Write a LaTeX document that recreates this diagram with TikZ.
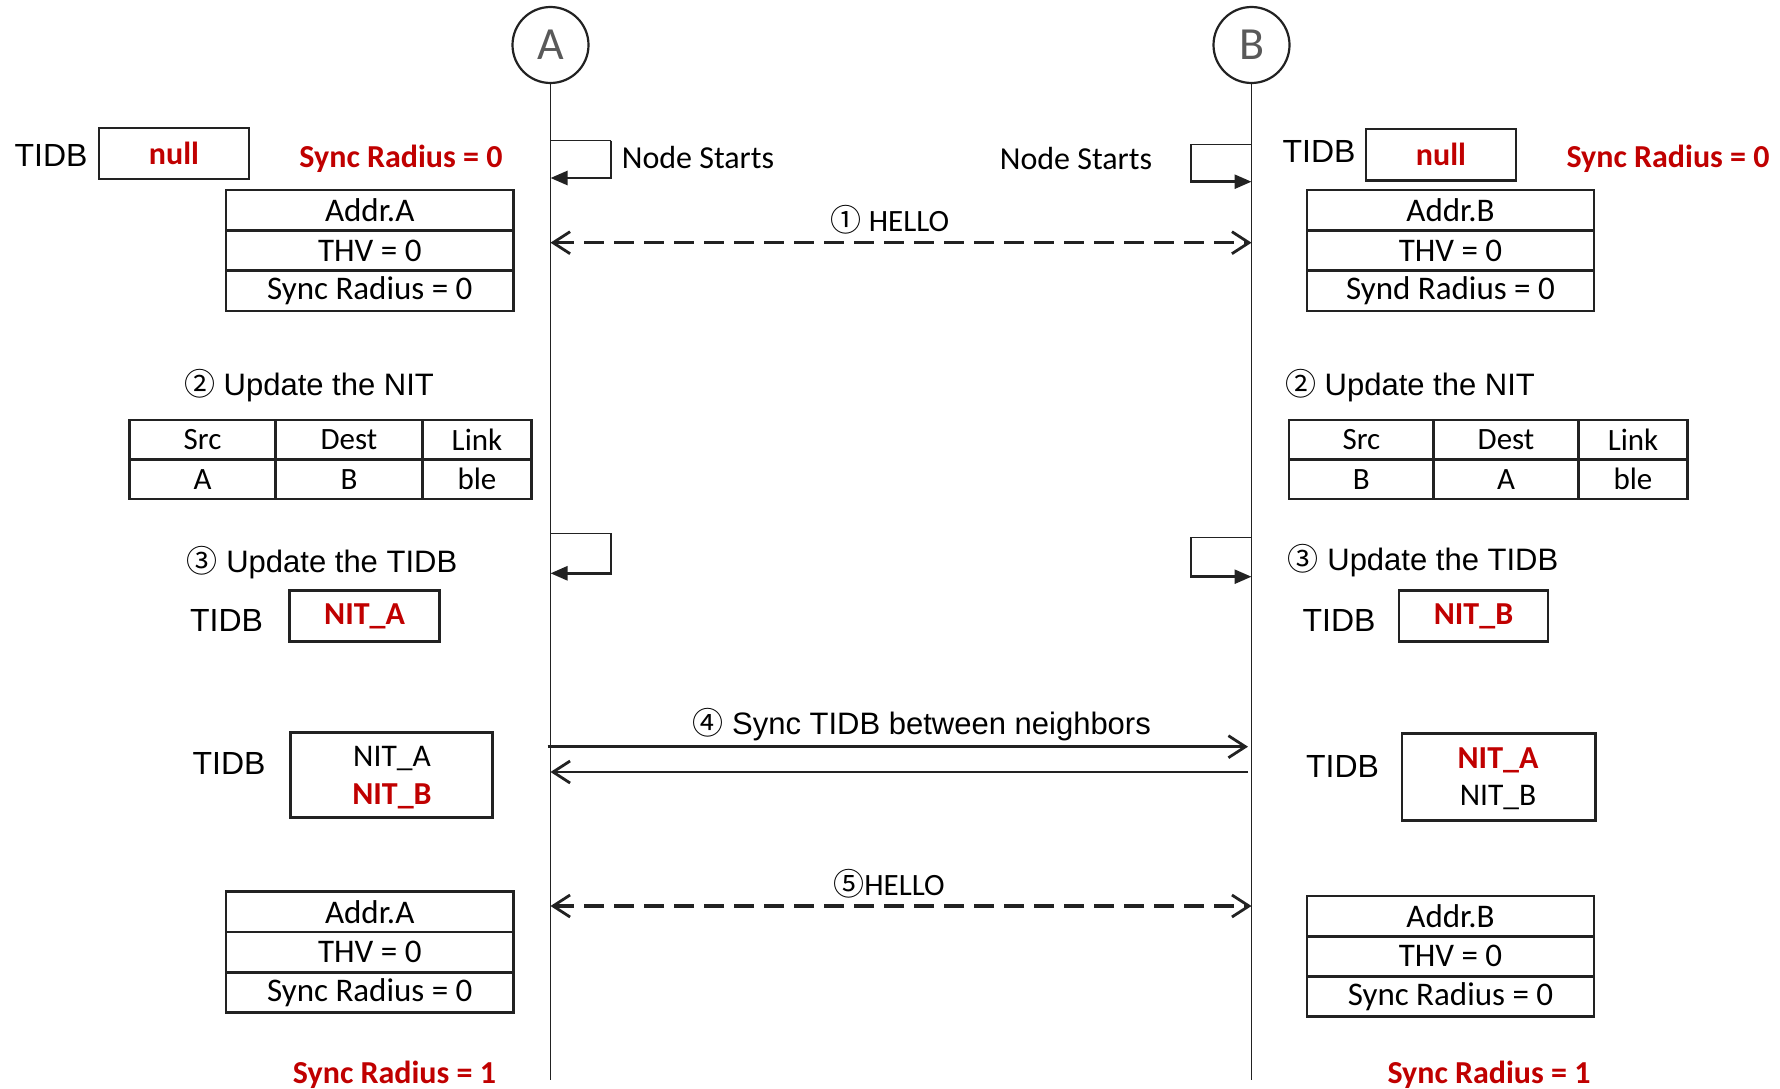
\documentclass[tikz,border=0pt]{standalone}
\usepackage{fontspec}
\setmainfont{Carlito}
\newfontfamily\arialf{Liberation Sans}
\newfontfamily\cjkf{Noto Sans CJK SC}
\usetikzlibrary{arrows.meta}
\definecolor{redtx}{HTML}{C00000}
\definecolor{ink}{HTML}{222222}
\definecolor{lettergray}{HTML}{595959}
\newcommand{\setfs}[1]{\fontsize{#1}{#1}\selectfont}

\begin{document}
\begin{tikzpicture}[x=1pt,y=-1pt,
  actor/.style={circle, draw=ink, line width=2.2, minimum size=76, inner sep=0,
    text=lettergray, font=\setfs{46}},
  life/.style={draw=ink, line width=1.5},
  box/.style={draw=ink, line width=2.6, inner sep=0},
  cell/.style={draw=ink, line width=2.8, inner sep=0, minimum height=40.3, font=\setfs{33}},
  nitcell/.style={draw=ink, line width=2.8, inner sep=0, minimum height=39.5, font=\setfs{31}},
  redb/.style={text=redtx, inner sep=0, font=\bfseries\setfs{32}},
  plain/.style={inner sep=0, font=\setfs{32}},
  head/.style={inner sep=0, font=\arialf\setfs{31}},
  tidb/.style={inner sep=0, font=\arialf\setfs{32}},
  loopthin/.style={draw=ink, line width=1.5},
  loopthick/.style={draw=ink, line width=2.6, -{Triangle[length=17pt,width=14pt]}},
  barb/.tip={Straight Barb[length=17pt,width=22pt,line width=2.8pt]},
  msg/.style={draw=ink, line width=2.8},
  dmsg/.style={draw=ink, line width=3.2, dash pattern=on 20pt off 10pt}
]
\useasboundingbox (0,0) rectangle (1780,1089);

% ---- participants and lifelines ----
\node[actor] (A) at (550.5,45) {A};
\node[actor] (B) at (1251.5,45) {B};
\coordinate (Aend) at (550.5,1080);
\coordinate (Bend) at (1251.5,1080);
\draw[life] (A.south) -- (Aend);
\draw[life] (B.south) -- (Bend);

% ---- node A: start ----
\node[tidb] (tA0) at (51,155) {TIDB};
\node[box, minimum width=150, minimum height=51] (nullA) at (174,153.5) {};
\node[redb] (nullAt) at (nullA) {null};
\node[redb] (srA0) at (401,159) {Sync Radius = 0};
\node[cell, minimum width=287.6] (adA1) at (369.8,210.2) {Addr.A};
\node[cell, minimum width=287.6] (adA2) at (369.8,250.5) {THV = 0};
\node[cell, minimum width=287.6] (adA3) at (369.8,290.8) {Sync Radius = 0};

\coordinate (sa1) at (550.5,140.7);
\coordinate (sa2) at (611,140.7);
\coordinate (sa3) at (611,178);
\coordinate (sa4) at (550.5,178);
\draw[loopthin] (sa1) -- (sa2);
\draw[loopthick] (sa2) -- (sa3) -- (sa4);
\node[plain] (nsA) at (698,158) {Node Starts};

% ---- node B: start ----
\node[tidb] (tB0) at (1319,151.5) {TIDB};
\node[box, minimum width=150, minimum height=51] (nullB) at (1441,154.7) {};
\node[redb] (nullBt) at (nullB) {null};
\node[redb] (srB0) at (1668,159) {Sync Radius = 0};
\node[cell, minimum width=287] (adB1) at (1450.5,210.2) {Addr.B};
\node[cell, minimum width=287] (adB2) at (1450.5,250.5) {THV = 0};
\node[cell, minimum width=287] (adB3) at (1450.5,290.8) {Synd Radius = 0};

\coordinate (sb1) at (1251.5,144.3);
\coordinate (sb2) at (1190.8,144.3);
\coordinate (sb3) at (1190.8,181.7);
\coordinate (sb4) at (1251.5,181.7);
\draw[loopthin] (sb1) -- (sb2);
\draw[loopthick] (sb2) -- (sb3) -- (sb4);
\node[plain] (nsB) at (1076,159) {Node Starts};

% ---- step 1: HELLO ----
\coordinate (h1a) at (550.5,242.7);
\coordinate (h1b) at (1251.5,242.7);
\draw[dmsg, barb-barb] (h1a) -- (h1b);
\node[plain, font=\setfs{31}] (m1) at (890,220) {{\cjkf ①} HELLO};

% ---- step 2: NIT tables ----
\node[head] (u2A) at (309,386) {{\cjkf ②} Update the NIT};
\node[nitcell, minimum width=146.4] (nA11) at (202.6,439.7) {Src};
\node[nitcell, minimum width=146.4] (nA12) at (349,439.7) {Dest};
\node[nitcell, minimum width=109.6] (nA13) at (477,439.7) {Link};
\node[nitcell, minimum width=146.4] (nA21) at (202.6,479.2) {A};
\node[nitcell, minimum width=146.4] (nA22) at (349,479.2) {B};
\node[nitcell, minimum width=109.6] (nA23) at (477,479.2) {ble};

\node[head] (u2B) at (1410,386) {{\cjkf ②} Update the NIT};
\node[nitcell, minimum width=144.7] (nB11) at (1361.4,439.7) {Src};
\node[nitcell, minimum width=144.7] (nB12) at (1506,439.7) {Dest};
\node[nitcell, minimum width=109] (nB13) at (1633,439.7) {Link};
\node[nitcell, minimum width=144.7] (nB21) at (1361.4,479.2) {B};
\node[nitcell, minimum width=144.7] (nB22) at (1506,479.2) {A};
\node[nitcell, minimum width=109] (nB23) at (1633,479.2) {ble};

% ---- step 3: TIDB update ----
\coordinate (ua1) at (550.5,533.3);
\coordinate (ua2) at (611,533.3);
\coordinate (ua3) at (611,573.3);
\coordinate (ua4) at (550.5,573.3);
\draw[loopthin] (ua1) -- (ua2);
\draw[loopthick] (ua2) -- (ua3) -- (ua4);
\node[head] (u3A) at (322,563) {{\cjkf ③} Update the TIDB};
\node[tidb] (tA3) at (226.5,620) {TIDB};
\node[box, minimum width=150, minimum height=51] (nitA) at (364.6,616) {};
\node[redb] (nitAt) at (nitA) {NIT\_A};

\coordinate (ub1) at (1251.5,537.3);
\coordinate (ub2) at (1190.8,537.3);
\coordinate (ub3) at (1190.8,576.7);
\coordinate (ub4) at (1251.5,576.7);
\draw[loopthin] (ub1) -- (ub2);
\draw[loopthick] (ub2) -- (ub3) -- (ub4);
\node[head] (u3B) at (1423,561) {{\cjkf ③} Update the TIDB};
\node[tidb] (tB3) at (1339,620) {TIDB};
\node[box, minimum width=149, minimum height=51] (nitB) at (1473.5,616) {};
\node[redb] (nitBt) at (nitB) {NIT\_B};

% ---- step 4: TIDB sync ----
\coordinate (s4a) at (547.7,746.7);
\coordinate (s4b) at (1248,746.7);
\coordinate (s4c) at (1248,772);
\coordinate (s4d) at (550.5,772);
\draw[msg, -barb] (s4a) -- (s4b);
\draw[msg, -barb] (s4c) -- (s4d);
\node[head] (m4) at (921.7,725) {{\cjkf ④} Sync TIDB between neighbors};

\node[tidb] (tA4) at (229,763) {TIDB};
\node[box, minimum width=202, minimum height=84.6] (tbA) at (391.6,775) {};
\node[plain, font=\setfs{31.5}] (tbA1) at (392,758.3) {NIT\_A};
\node[redb] (tbA2) at (392,796) {NIT\_B};

\node[tidb] (tB4) at (1342.6,766.7) {TIDB};
\node[box, minimum width=193.5, minimum height=87.4] (tbB) at (1498.7,777) {};
\node[redb] (tbB1) at (1498,760) {NIT\_A};
\node[plain, font=\setfs{31.5}] (tbB2) at (1498,798) {NIT\_B};

% ---- step 5: HELLO ----
\coordinate (h5a) at (550.5,906);
\coordinate (h5b) at (1251.5,906);
\draw[dmsg, barb-barb] (h5a) -- (h5b);
\node[plain, font=\setfs{31}] (m5) at (889,884) {{\cjkf ⑤}HELLO};

\node[cell, minimum width=287.6] (fA1) at (369.8,911.9) {Addr.A};
\node[cell, minimum width=287.6] (fA2) at (369.8,952.2) {THV = 0};
\node[cell, minimum width=287.6] (fA3) at (369.8,992.5) {Sync Radius = 0};
\node[redb] (srA1) at (394.5,1075) {Sync Radius = 1};

\node[cell, minimum width=287] (fB1) at (1450.5,916.1) {Addr.B};
\node[cell, minimum width=287] (fB2) at (1450.5,956.3) {THV = 0};
\node[cell, minimum width=287] (fB3) at (1450.5,996.5) {Sync Radius = 0};
\node[redb] (srB1) at (1489,1075) {Sync Radius = 1};
\end{tikzpicture}
\end{document}
